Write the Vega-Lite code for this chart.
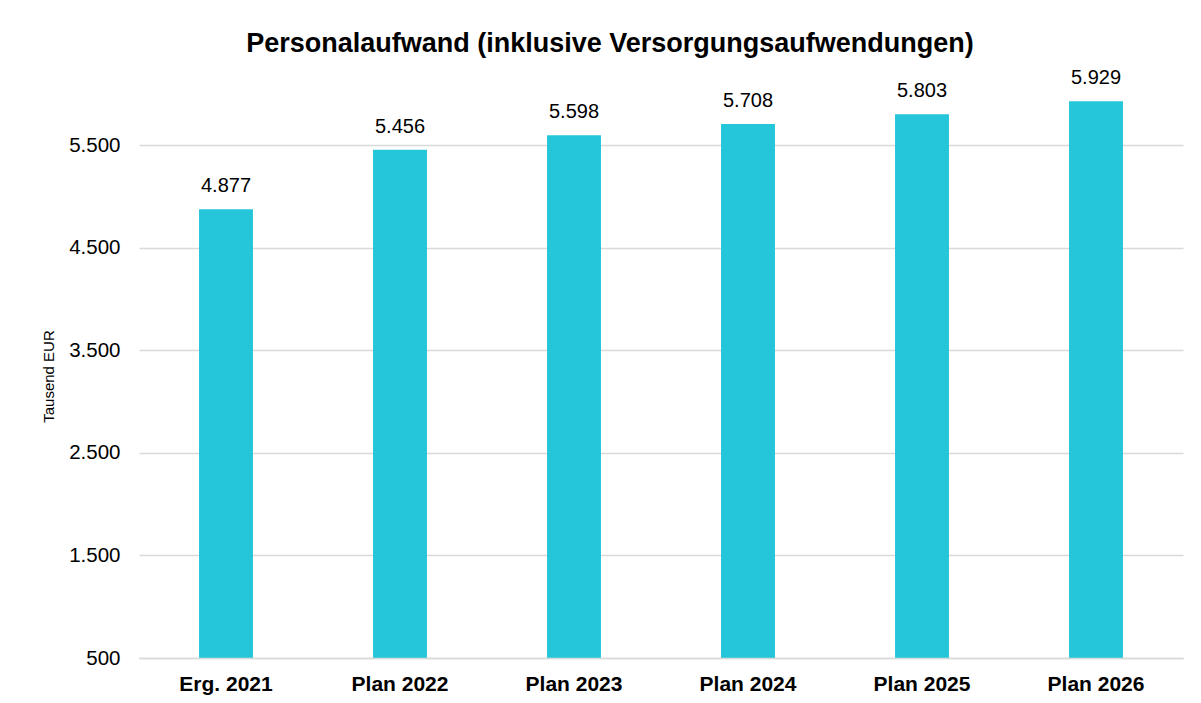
{
  "$schema": "https://vega.github.io/schema/vega-lite/v6.json",
  "autosize": {"type": "none"},
  "width": 1044,
  "height": 564,
  "padding": {"left": 139, "top": 94, "right": 18, "bottom": 45},
  "background": "white",
  "title": {
    "text": "Personalaufwand (inklusive Versorgungsaufwendungen)",
    "font": "Liberation Sans",
    "fontSize": 27,
    "fontWeight": "bold",
    "color": "#000000",
    "anchor": "middle",
    "dx": -51,
    "offset": 10
  },
  "config": {
    "view": {"stroke": null},
    "font": "Liberation Sans"
  },
  "data": {
    "values": [
      {"kategorie": "Erg. 2021", "wert": 4877, "label": "4.877"},
      {"kategorie": "Plan 2022", "wert": 5456, "label": "5.456"},
      {"kategorie": "Plan 2023", "wert": 5598, "label": "5.598"},
      {"kategorie": "Plan 2024", "wert": 5708, "label": "5.708"},
      {"kategorie": "Plan 2025", "wert": 5803, "label": "5.803"},
      {"kategorie": "Plan 2026", "wert": 5929, "label": "5.929"}
    ]
  },
  "encoding": {
    "x": {
      "field": "kategorie",
      "type": "nominal",
      "sort": null,
      "scale": {"paddingInner": 0.69, "paddingOuter": 0.345},
      "axis": {
        "title": null,
        "labelAngle": 0,
        "labelFont": "Liberation Sans",
        "labelFontSize": 21,
        "labelFontWeight": "bold",
        "labelColor": "#000000",
        "labelBaseline": "alphabetic",
        "labelPadding": 32,
        "ticks": false,
        "domainColor": "#D9D9D9",
        "domainWidth": 1.5,
        "zindex": 1
      }
    },
    "y": {
      "field": "wert",
      "type": "quantitative",
      "scale": {"domain": [500, 6000], "nice": false, "zero": false},
      "axis": {
        "title": "Tausend EUR",
        "titleFont": "Liberation Sans",
        "titleFontSize": 15,
        "titleFontWeight": "normal",
        "titleColor": "#000000",
        "titlePadding": 12,
        "values": [500, 1500, 2500, 3500, 4500, 5500],
        "labelExpr": "replace(format(datum.value, ',d'), ',', '.')",
        "labelFont": "Liberation Sans",
        "labelFontSize": 20.5,
        "labelColor": "#000000",
        "labelPadding": 19,
        "ticks": false,
        "domain": false,
        "grid": true,
        "gridColor": "#D9D9D9",
        "gridWidth": 1.5
      }
    }
  },
  "layer": [
    {
      "mark": {"type": "bar", "color": "#26C6DA", "clip": true}
    },
    {
      "mark": {
        "type": "text",
        "baseline": "alphabetic",
        "dy": -17,
        "font": "Liberation Sans",
        "fontSize": 20,
        "color": "#000000"
      },
      "encoding": {"text": {"field": "label"}}
    }
  ]
}
